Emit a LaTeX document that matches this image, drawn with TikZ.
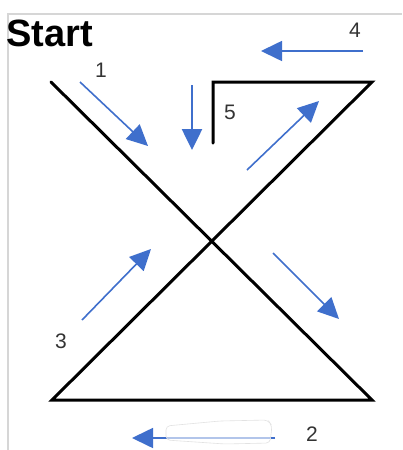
\documentclass[tikz,border=0pt]{standalone}
\usepackage{fontspec}
\setmainfont{Liberation Sans}
\usetikzlibrary{arrows.meta}
\definecolor{arrowblue}{HTML}{3F6FCC}
\definecolor{labelgray}{HTML}{333333}
\definecolor{framegray}{HTML}{D6D6D6}
\tikzset{
  figline/.style={line width=3pt, black, line cap=round, line join=miter},
  flow/.style={line width=1.6pt, arrowblue, -{Triangle[length=21pt,width=20pt]}},
  numlabel/.style={font=\fontsize{21}{21}\selectfont, text=labelgray, inner sep=0pt},
}
\begin{document}
\begin{tikzpicture}[x=1pt,y=-1pt]
\useasboundingbox (0,0) rectangle (402,450);
\fill[white] (0,0) rectangle (402,450);
% frame
\draw[framegray, line width=1.2pt] (8,450) -- (8,14) -- (402,14);
% title
\node[anchor=base west, inner sep=0pt, font=\bfseries\fontsize{38}{38}\selectfont] (start) at (6,46) {Start};
% figure coordinates
\coordinate (tl) at (51,82);
\coordinate (x) at (212,241);
\coordinate (br) at (372,400);
\coordinate (bl) at (52,400);
\coordinate (tr) at (372,82);
\coordinate (tk) at (213,82);
\coordinate (kb) at (213,143);
\draw[figline] (tl) -- (br) -- (bl) -- (tr) -- (tk) -- (kb);
% arrows
\coordinate (a1s) at (80,82);   \coordinate (a1e) at (148,146);
\coordinate (a5s) at (192,85);  \coordinate (a5e) at (192,150);
\coordinate (a4s) at (363,51);  \coordinate (a4e) at (261,51);
\coordinate (aus) at (247,170); \coordinate (aue) at (319,101);
\coordinate (a3s) at (82,320);  \coordinate (a3e) at (151,249);
\coordinate (ads) at (273,253); \coordinate (ade) at (339,319);
\coordinate (a2s) at (275,438); \coordinate (a2e) at (132,438);
\draw[flow] (a1s) -- (a1e);
\draw[flow, line width=2.6pt] (a5s) -- (a5e);
\draw[flow] (a4s) -- (a4e);
\draw[flow] (aus) -- (aue);
\draw[flow] (a3s) -- (a3e);
\draw[flow] (ads) -- (ade);
\draw[flow] (a2s) -- (a2e);
% faint pasted patch over arrow 2
\draw[framegray!70, line width=0.6pt, fill=white, fill opacity=0.6, rounded corners=4pt]
  (166,426) -- (166,440) -- (225,444) -- (270,443) -- (272,426) -- (268,420) -- (220,421) -- cycle;
% labels
\node[numlabel] (l1) at (101,70) {1};
\node[numlabel] (l2) at (312,434) {2};
\node[numlabel] (l3) at (61,341) {3};
\node[numlabel] (l4) at (355,30) {4};
\node[numlabel] (l5) at (230,112) {5};
\end{tikzpicture}
\end{document}
